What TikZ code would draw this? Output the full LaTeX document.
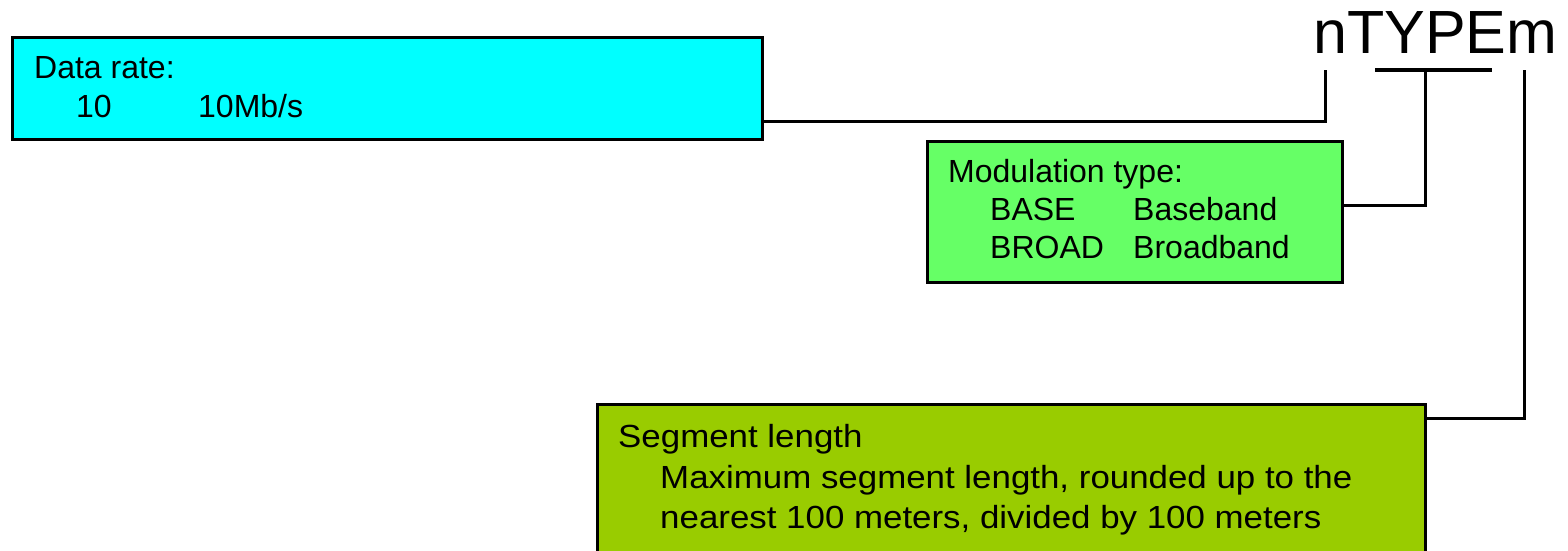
\documentclass[tikz,border=0pt]{standalone}
\usepackage{fontspec}
\setmainfont{Liberation Sans}
\definecolor{boxcyan}{HTML}{00FFFF}
\definecolor{boxgreen}{HTML}{66FF66}
\definecolor{boxolive}{HTML}{99CC00}
\begin{document}
\begin{tikzpicture}[x=1pt,y=-1pt,
  box/.style={draw=black,line width=3pt,anchor=north west,inner sep=0pt},
  conn/.style={draw=black,line width=3pt},
  txt/.style={anchor=base west,inner sep=0pt,font=\fontsize{32}{38}\selectfont},
  widetxt/.style={txt,xscale=1.09,transform shape},
  big/.style={anchor=base west,inner sep=0pt,font=\fontsize{61}{70}\selectfont}]
\clip (0,0) rectangle (1568,551);
\fill[white] (0,0) rectangle (1568,551);
% title
\node[big] (title) at (1313,53) {nTYPEm};
\coordinate (nTap) at (1325,70);
\coordinate (typeL) at (1375,70);
\coordinate (typeR) at (1492,70);
\coordinate (typeMid) at (1425,70);
\coordinate (mTap) at (1524,70);
% boxes
\node[box,fill=boxcyan,minimum width=750pt,minimum height=102pt] (rate) at (11,36) {};
\node[box,fill=boxgreen,minimum width=415pt,minimum height=141pt] (mod) at (926,140) {};
\node[box,fill=boxolive,minimum width=828pt,minimum height=200pt] (seg) at (596,403) {};
% texts
\node[txt] (r1) at (34,78) {Data rate:};
\node[txt] (r2) at (76,117) {10};
\node[txt] (r3) at (198,117) {10Mb/s};
\node[txt] (m1) at (948,182) {Modulation type:};
\node[txt] (m2) at (990,220) {BASE};
\node[txt] (m3) at (1133,220) {Baseband};
\node[txt] (m4) at (990,258) {BROAD};
\node[txt] (m5) at (1133,258) {Broadband};
\node[widetxt] (s1) at (618,447) {Segment length};
\node[widetxt] (s2) at (660,488) {Maximum segment length, rounded up to the};
\node[widetxt] (s3) at (660,528) {nearest 100 meters, divided by 100 meters};
% connectors
\draw[conn] ([yshift=20pt]rate.south east) -| (nTap);
\draw[conn] (typeL) -- (typeR);
\draw[conn] ([yshift=7pt]mod.east) -| (typeMid);
\draw[conn] ([yshift=-15pt]seg.north east) -| (mTap);
\end{tikzpicture}
\end{document}
